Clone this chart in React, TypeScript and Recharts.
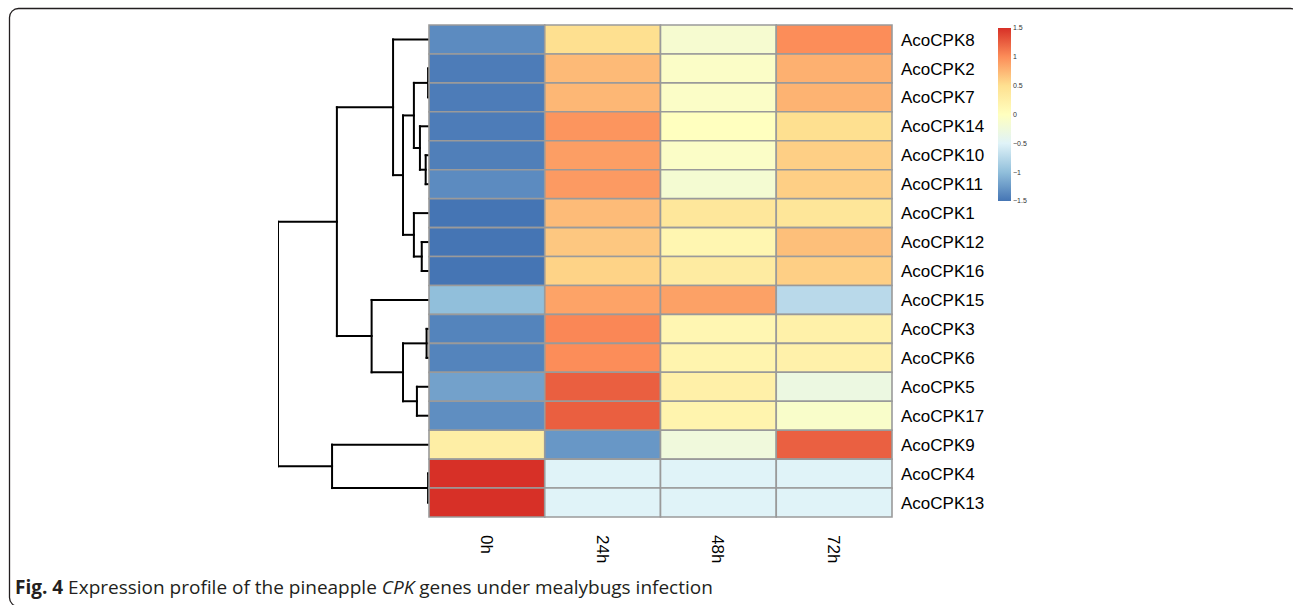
import React from "react";
import {
  Bar,
  BarChart,
  Cell,
  ComposedChart,
  Line,
  XAxis,
  YAxis,
} from "recharts";

// row order as drawn (top -> bottom), after clustering
const genes = [
  "AcoCPK8", "AcoCPK2", "AcoCPK7", "AcoCPK14", "AcoCPK10", "AcoCPK11",
  "AcoCPK1", "AcoCPK12", "AcoCPK16", "AcoCPK15", "AcoCPK3", "AcoCPK6",
  "AcoCPK5", "AcoCPK17", "AcoCPK9", "AcoCPK4", "AcoCPK13",
];
const timepoints = ["0h", "24h", "48h", "72h"];

// row-scaled expression (z-score) per time point
const z0h = [-1.35, -1.45, -1.45, -1.45, -1.43, -1.35, -1.5, -1.5, -1.5, -1.0, -1.4, -1.4, -1.2, -1.33, 0.28, 1.5, 1.5];
const z24h = [0.5, 0.73, 0.75, 0.95, 0.9, 0.92, 0.72, 0.65, 0.58, 0.87, 1.03, 1.0, 1.25, 1.25, -1.27, -0.5, -0.5];
const z48h = [-0.15, -0.07, -0.07, 0.0, -0.07, -0.17, 0.38, 0.15, 0.32, 0.88, 0.14, 0.18, 0.25, 0.18, -0.25, -0.5, -0.5];
const z72h = [1.0, 0.79, 0.77, 0.5, 0.6, 0.6, 0.4, 0.7, 0.6, -0.75, 0.23, 0.22, -0.3, -0.1, 1.24, -0.5, -0.5];
const series = [z0h, z24h, z48h, z72h];

// hclust-style merges: [left, right, height]; strings are leaves, numbers are earlier merges
const merges: [string | number, string | number, number][] = [
  ["AcoCPK2", "AcoCPK7", 0.03], // 0
  ["AcoCPK4", "AcoCPK13", 0.03], // 1
  ["AcoCPK3", "AcoCPK6", 0.08], // 2
  ["AcoCPK10", "AcoCPK11", 0.11], // 3
  ["AcoCPK12", "AcoCPK16", 0.24], // 4
  ["AcoCPK14", 3, 0.3], // 5
  ["AcoCPK5", "AcoCPK17", 0.4], // 6
  [0, 5, 0.5], // 7
  ["AcoCPK1", 4, 0.5], // 8
  [7, 8, 0.86], // 9
  [2, 6, 0.86], // 10
  ["AcoCPK8", 9, 1.19], // 11
  ["AcoCPK15", 10, 1.9], // 12
  [11, 12, 3.05], // 13
  ["AcoCPK9", 1, 3.21], // 14
  [13, 14, 5.0], // 15
];

const legendTicks = [-1.5, -1, -0.5, 0, 0.5, 1, 1.5];
const palette = ["#4575B4", "#91BFDB", "#E0F3F8", "#FFFFBF", "#FEE090", "#FC8D59", "#D73027"];
const zMin = -1.5;
const zMax = 1.5;

const FONT = "'Liberation Sans', Arial, Helvetica, sans-serif";

function hexRgb(h: string) {
  const n = parseInt(h.slice(1), 16);
  return [(n >> 16) & 255, (n >> 8) & 255, n & 255];
}

function zColor(z: number) {
  const t = Math.min(1, Math.max(0, (z - zMin) / (zMax - zMin))) * (palette.length - 1);
  const i = Math.min(palette.length - 2, Math.floor(t));
  const f = t - i;
  const a = hexRgb(palette[i]);
  const b = hexRgb(palette[i + 1]);
  const c = a.map((v, k) => Math.round(v + (b[k] - v) * f));
  return `rgb(${c[0]},${c[1]},${c[2]})`;
}

function dendroSegments() {
  const nodes: { y: number; h: number }[] = [];
  const at = (k: string | number) =>
    typeof k === "string" ? { y: genes.indexOf(k) + 0.5, h: 0 } : nodes[k];
  const segs: { x: number; y: number }[][] = [];
  merges.forEach(([a, b, h]) => {
    const pa = at(a);
    const pb = at(b);
    segs.push([{ x: pa.h, y: pa.y }, { x: h, y: pa.y }]);
    segs.push([{ x: h, y: pa.y }, { x: h, y: pb.y }]);
    segs.push([{ x: pb.h, y: pb.y }, { x: h, y: pb.y }]);
    nodes.push({ y: (pa.y + pb.y) / 2, h });
  });
  return segs;
}

const rows = genes.map((gene) => ({ gene, c0: 1, c1: 1, c2: 1, c3: 1 }));
const keyData = [{ name: "key", range: [zMin, zMax] }];

const GeneTick = (props: any) => {
  const { x, y, payload } = props;
  return (
    <text x={x} y={y} dy="0.36em" textAnchor="start" fontSize={17} fontFamily={FONT} fill="#000">
      {payload.value}
    </text>
  );
};

const TimeTick = (props: any) => {
  const { x, y, payload } = props;
  const label = timepoints[Math.floor(payload.value)];
  return (
    <text
      x={x}
      y={y}
      dy="0.36em"
      textAnchor="start"
      fontSize={17}
      fontFamily={FONT}
      fill="#000"
      transform={`rotate(90, ${x}, ${y})`}
    >
      {label}
    </text>
  );
};

export default function App() {
  const segs = dendroSegments();
  const allPts = segs.flat();
  return (
    <div
      style={{
        position: "absolute",
        left: 0,
        top: 0,
        width: 1293,
        height: 605,
        background: "#fff",
        overflow: "hidden",
      }}
    >
      <svg width={1293} height={605} style={{ position: "absolute", left: 0, top: 0 }}>
        <rect x={9.5} y={8.5} width={1290} height={598} rx={9} fill="none" stroke="#231f20" strokeWidth={1.3} />
        <text x={15} y={594} fontSize={19} fontFamily="'Open Sans', 'Noto Sans', sans-serif" fill="#231f20">
          <tspan fontWeight="bold">Fig. 4</tspan>
          <tspan> Expression profile of the pineapple </tspan>
          <tspan fontStyle="italic">CPK</tspan>
          <tspan> genes under mealybugs infection</tspan>
        </text>
      </svg>

      {/* dendrogram */}
      <div style={{ position: "absolute", left: 268, top: 15 }}>
        <ComposedChart
          width={171}
          height={512}
          data={allPts}
          margin={{ top: 10, right: 10, bottom: 10, left: 10 }}
        >
          <XAxis type="number" dataKey="x" domain={[0, 5]} reversed hide allowDataOverflow />
          <YAxis type="number" dataKey="y" domain={[0, genes.length]} reversed hide allowDataOverflow />
          {segs.map((s, i) => (
            <Line
              key={i}
              data={s}
              dataKey="y"
              type="linear"
              stroke="#000"
              strokeWidth={2}
              strokeLinecap="square"
              dot={false}
              activeDot={false}
              isAnimationActive={false}
            />
          ))}
        </ComposedChart>
      </div>

      {/* heatmap */}
      <div style={{ position: "absolute", left: 0, top: 0 }}>
        <BarChart
          width={1293}
          height={605}
          data={rows}
          layout="vertical"
          barCategoryGap={0}
          barGap={0}
          margin={{ top: 25, left: 429, right: 291, bottom: 28 }}
        >
          <XAxis
            type="number"
            domain={[0, 4]}
            ticks={[0.5, 1.5, 2.5, 3.5]}
            interval={0}
            axisLine={false}
            tickLine={false}
            tickMargin={12}
            height={60}
            tick={<TimeTick />}
          />
          <YAxis
            type="category"
            dataKey="gene"
            orientation="right"
            width={110}
            interval={0}
            axisLine={false}
            tickLine={false}
            tickMargin={3}
            tick={<GeneTick />}
          />
          {series.map((vals, j) => (
            <Bar
              key={j}
              dataKey={`c${j}`}
              stackId="cells"
              isAnimationActive={false}
              stroke="#9a9a9a"
              strokeWidth={1.6}
            >
              {vals.map((v, i) => (
                <Cell key={i} fill={zColor(v)} />
              ))}
            </Bar>
          ))}
        </BarChart>
      </div>

      {/* colour key */}
      <div style={{ position: "absolute", left: 990, top: 20 }}>
        <BarChart
          width={61}
          height={187}
          data={keyData}
          barCategoryGap={0}
          margin={{ top: 8, left: 8, right: 0, bottom: 6 }}
        >
          <defs>
            <linearGradient id="keyGrad" x1="0" y1="1" x2="0" y2="0">
              {palette.map((c, i) => (
                <stop key={i} offset={`${(i / (palette.length - 1)) * 100}%`} stopColor={c} />
              ))}
            </linearGradient>
          </defs>
          <XAxis type="category" dataKey="name" hide />
          <YAxis
            type="number"
            domain={[zMin, zMax]}
            ticks={legendTicks}
            orientation="right"
            width={40}
            axisLine={false}
            tickLine={false}
            tickSize={0}
            tickMargin={2}
            interval={0}
            tick={{ fontSize: 7, fontFamily: FONT, fill: "#333", textAnchor: "start" }}
            tickFormatter={(v: number) => (v < 0 ? `\u2212${Math.abs(v)}` : `${v}`)}
          />
          <Bar dataKey="range" fill="url(#keyGrad)" isAnimationActive={false} />
        </BarChart>
      </div>
    </div>
  );
}
